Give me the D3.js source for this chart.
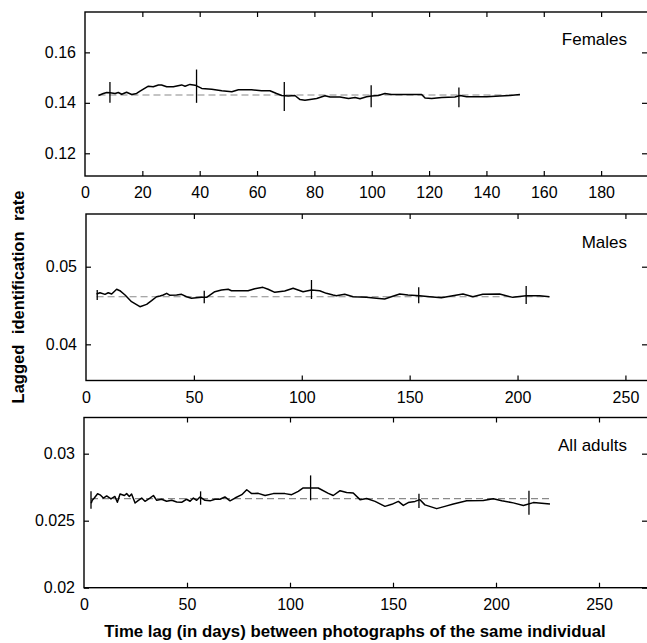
<!DOCTYPE html>
<html>
<head>
<meta charset="utf-8">
<script src="https://cdn.jsdelivr.net/npm/d3@7"></script>
<style>
  html, body { margin: 0; padding: 0; background: #fff; }
  svg { display: block; font-family: "Liberation Sans", Arial, Helvetica, sans-serif; }
</style>
</head>
<body>
<svg id="chart" width="647" height="643"></svg>
<script>
// ---------- DATA ----------
const panelLabels = ["Females", "Males", "All adults"];

const femalesLag = [4.7, 6.4, 7.6, 8.7, 10.5, 11.6, 12.8, 14.5, 16.3, 18.0, 19.2, 22.1, 23.8, 25.6, 26.7, 28.5, 30.8, 33.7, 34.9, 36.6, 38.4, 40.7, 44.2, 47.7, 51.2, 53.5, 58.1, 61.6, 64.5, 66.8, 68.6, 70.9, 73.2, 75.0, 76.7, 78.5, 80.8, 83.7, 85.5, 88.9, 91.9, 94.2, 95.9, 98.2, 100.0, 102.3, 104.6, 106.9, 117.4, 118.6, 120.9, 124.4, 129.0, 130.8, 133.1, 140.1, 144.7, 148.2, 151.7];
const femalesRate = [0.1429, 0.1437, 0.1441, 0.1440, 0.1437, 0.1441, 0.1434, 0.1442, 0.1433, 0.1437, 0.1446, 0.1466, 0.1464, 0.1471, 0.1471, 0.1464, 0.1464, 0.1471, 0.1466, 0.1473, 0.1470, 0.1457, 0.1454, 0.1448, 0.1444, 0.1452, 0.1452, 0.1448, 0.1448, 0.1437, 0.1429, 0.1427, 0.1429, 0.1413, 0.1410, 0.1413, 0.1417, 0.1428, 0.1423, 0.1423, 0.1417, 0.1421, 0.1416, 0.1424, 0.1427, 0.1429, 0.1437, 0.1433, 0.1433, 0.1419, 0.1417, 0.1421, 0.1423, 0.1429, 0.1424, 0.1424, 0.1427, 0.1429, 0.1433];
const femalesMean = 0.1431;
const femalesMeanRange = [4.7, 151.7];
const femalesBarLag = [8.7, 38.9, 69.5, 99.8, 130.4];
const femalesBarLo = [0.1400, 0.1400, 0.1368, 0.1382, 0.1382];
const femalesBarHi = [0.1483, 0.1532, 0.1483, 0.1470, 0.1461];
const femalesXTicks = [0, 20, 40, 60, 80, 100, 120, 140, 160, 180];
const femalesYTicks = [0.12, 0.14, 0.16];

const malesLag = [4.9, 6.5, 8.8, 10.3, 11.9, 14.2, 15.7, 18.1, 21.1, 25.0, 28.1, 30.4, 32.7, 34.3, 35.8, 37.4, 38.9, 42.0, 44.3, 46.6, 48.9, 51.2, 53.6, 55.9, 57.4, 59.7, 62.8, 65.9, 67.4, 75.1, 78.2, 82.0, 84.4, 87.5, 92.1, 96.0, 98.3, 100.6, 104.5, 108.3, 111.4, 114.5, 116.0, 119.9, 123.8, 129.9, 134.6, 138.4, 141.5, 145.4, 149.2, 154.6, 159.3, 164.7, 169.3, 174.7, 179.3, 183.9, 191.7, 197.8, 204.0, 210.2, 214.8];
const malesRate = [0.04648, 0.04665, 0.04644, 0.04665, 0.04648, 0.04709, 0.04691, 0.04635, 0.04549, 0.04485, 0.04515, 0.04562, 0.04613, 0.04622, 0.04635, 0.04657, 0.04631, 0.04635, 0.04644, 0.04613, 0.04593, 0.04601, 0.04605, 0.04605, 0.04635, 0.04678, 0.04700, 0.04709, 0.04691, 0.04691, 0.04717, 0.04734, 0.04709, 0.04670, 0.04687, 0.04722, 0.04700, 0.04678, 0.04700, 0.04691, 0.04657, 0.04635, 0.04627, 0.04644, 0.04613, 0.04605, 0.04593, 0.04584, 0.04613, 0.04648, 0.04635, 0.04627, 0.04613, 0.04600, 0.04622, 0.04648, 0.04613, 0.04644, 0.04648, 0.04605, 0.04627, 0.04627, 0.04613];
const malesMean = 0.04613;
const malesMeanRange = [4.9, 214.8];
const malesBarLag = [5.2, 54.8, 104.5, 154.2, 204.0];
const malesBarLo = [0.04570, 0.04528, 0.04584, 0.04528, 0.04520];
const malesBarHi = [0.04700, 0.04691, 0.04829, 0.04734, 0.04751];
const malesXTicks = [0, 50, 100, 150, 200, 250];
const malesYTicks = [0.04, 0.05];

const allLag = [3.5, 4.0, 5.0, 6.6, 7.8, 9.4, 11.0, 13.1, 15.0, 16.2, 17.5, 19.6, 20.7, 22.0, 23.1, 24.8, 26.4, 28.0, 29.6, 32.0, 33.7, 35.3, 37.7, 40.1, 42.6, 45.0, 47.4, 49.8, 51.5, 53.1, 54.7, 56.3, 58.7, 61.2, 63.6, 66.0, 68.4, 70.9, 73.3, 76.6, 79.0, 81.4, 84.6, 87.9, 91.9, 97.6, 100.8, 104.0, 106.4, 113.7, 118.6, 121.0, 124.3, 127.5, 130.7, 134.0, 137.2, 141.3, 146.1, 149.4, 152.6, 155.0, 157.4, 160.7, 163.1, 165.5, 171.2, 175.2, 179.3, 185.8, 193.8, 198.7, 202.8, 208.4, 213.3, 218.1, 226.2];
const allRate = [0.02630, 0.02652, 0.02669, 0.02701, 0.02693, 0.02669, 0.02685, 0.02662, 0.02681, 0.02637, 0.02699, 0.02688, 0.02702, 0.02681, 0.02699, 0.02632, 0.02652, 0.02669, 0.02645, 0.02669, 0.02688, 0.02652, 0.02660, 0.02645, 0.02652, 0.02640, 0.02637, 0.02660, 0.02645, 0.02669, 0.02652, 0.02677, 0.02652, 0.02648, 0.02660, 0.02660, 0.02677, 0.02648, 0.02669, 0.02694, 0.02731, 0.02702, 0.02704, 0.02688, 0.02702, 0.02702, 0.02694, 0.02719, 0.02744, 0.02744, 0.02704, 0.02688, 0.02724, 0.02711, 0.02707, 0.02657, 0.02666, 0.02644, 0.02607, 0.02622, 0.02644, 0.02614, 0.02635, 0.02644, 0.02657, 0.02618, 0.02590, 0.02607, 0.02625, 0.02649, 0.02651, 0.02664, 0.02649, 0.02633, 0.02614, 0.02635, 0.02625];
const allMean = 0.02664;
const allMeanRange = [3.4, 226.2];
const allBarLag = [3.4, 56.6, 110.0, 162.6, 216.0];
const allBarLo = [0.02590, 0.02619, 0.02652, 0.02595, 0.02545];
const allBarHi = [0.02719, 0.02719, 0.02838, 0.02701, 0.02724];
const allXTicks = [0, 50, 100, 150, 200, 250];
const allYTicks = [0.02, 0.025, 0.03];

const xTitle = "Time lag (in days) between photographs of the same individual";
const yTitle = "Lagged identification rate";

// ---------- LAYOUT ----------
const svg = d3.select("#chart");
const panels = [
  { label: panelLabels[0], lag: femalesLag, rate: femalesRate, mean: femalesMean, meanRange: femalesMeanRange,
    barLag: femalesBarLag, barLo: femalesBarLo, barHi: femalesBarHi, xTicks: femalesXTicks, yTicks: femalesYTicks,
    xDomain: [0, 196], yDomain: [0.111, 0.176], left: 85, top: 12, bottom: 176, yFmt: d3.format(".2f"), labelY: 45 },
  { label: panelLabels[1], lag: malesLag, rate: malesRate, mean: malesMean, meanRange: malesMeanRange,
    barLag: malesBarLag, barLo: malesBarLo, barHi: malesBarHi, xTicks: malesXTicks, yTicks: malesYTicks,
    xDomain: [0, 260], yDomain: [0.03534, 0.05679], left: 86, top: 214, bottom: 380.5, yFmt: d3.format(".2f"), labelY: 248 },
  { label: panelLabels[2], lag: allLag, rate: allRate, mean: allMean, meanRange: allMeanRange,
    barLag: allBarLag, barLo: allBarLo, barHi: allBarHi, xTicks: allXTicks, yTicks: allYTicks,
    xDomain: [0, 273.3], yDomain: [0.02, 0.0327], left: 84, top: 417.5, bottom: 587.7, yFmt: d => d3.format("")(+d.toFixed(3)), labelY: 451 }
];
const rightEdge = 647;
const tickLen = 5;

panels.forEach(p => {
  const x = d3.scaleLinear().domain(p.xDomain).range([p.left, rightEdge]);
  const y = d3.scaleLinear().domain(p.yDomain).range([p.bottom, p.top]);
  const g = svg.append("g");

  // mean dashed line
  g.append("line")
    .attr("x1", x(p.meanRange[0])).attr("x2", x(p.meanRange[1]))
    .attr("y1", y(p.mean)).attr("y2", y(p.mean))
    .attr("stroke", "#8a8a8a").attr("stroke-width", 1.2)
    .attr("stroke-dasharray", "7,4");

  // data line
  const pts = p.lag.map((d, i) => [d, p.rate[i]]);
  g.append("path")
    .datum(pts)
    .attr("fill", "none").attr("stroke", "#000").attr("stroke-width", 1.5)
    .attr("stroke-linejoin", "round")
    .attr("d", d3.line().x(d => x(d[0])).y(d => y(d[1])));

  // error bars
  g.selectAll("line.err").data(p.barLag).enter().append("line")
    .attr("class", "err")
    .attr("x1", d => x(d)).attr("x2", d => x(d))
    .attr("y1", (d, i) => y(p.barLo[i])).attr("y2", (d, i) => y(p.barHi[i]))
    .attr("stroke", "#000").attr("stroke-width", 1.3);

  // axes with inward ticks on all four sides
  const xb = g.append("g").attr("transform", `translate(0,${p.bottom})`)
    .call(d3.axisBottom(x).tickValues(p.xTicks).tickSizeInner(-tickLen).tickSizeOuter(0).tickPadding(11).tickFormat(d3.format("")));
  const xt = g.append("g").attr("transform", `translate(0,${p.top})`)
    .call(d3.axisTop(x).tickValues(p.xTicks).tickSizeInner(-tickLen).tickSizeOuter(0).tickFormat(""));
  const yl = g.append("g").attr("transform", `translate(${p.left},0)`)
    .call(d3.axisLeft(y).tickValues(p.yTicks).tickSizeInner(-tickLen).tickSizeOuter(0).tickPadding(9).tickFormat(p.yFmt));
  const yr = g.append("g").attr("transform", `translate(${rightEdge},0)`)
    .call(d3.axisRight(y).tickValues(p.yTicks).tickSizeInner(-tickLen).tickSizeOuter(0).tickFormat(""));
  [xb, xt, yl, yr].forEach(a => {
    a.select(".domain").remove();
    a.selectAll(".tick line").attr("stroke", "#000").attr("stroke-width", 1.2);
    a.selectAll(".tick text").attr("font-size", 16).attr("fill", "#000")
      .attr("font-family", "'Liberation Sans', Arial, Helvetica, sans-serif");
  });
  xt.selectAll(".tick").filter(d => d === 0).select("line").remove();
  xb.selectAll(".tick").filter(d => d === 0).select("line").remove();

  // frame
  g.append("rect")
    .attr("x", p.left).attr("y", p.top)
    .attr("width", rightEdge - p.left + 2).attr("height", p.bottom - p.top)
    .attr("fill", "none").attr("stroke", "#000").attr("stroke-width", 1.4);

  // panel label
  g.append("text")
    .attr("x", 627).attr("y", p.labelY)
    .attr("text-anchor", "end").attr("font-size", 17).attr("fill", "#000")
    .text(p.label);
});

// axis titles
svg.append("text")
  .attr("x", 355).attr("y", 637)
  .attr("text-anchor", "middle").attr("font-size", 16.8).attr("font-weight", "bold")
  .text(xTitle);

svg.append("text")
  .attr("transform", "translate(24,297) rotate(-90)")
  .attr("text-anchor", "middle").attr("font-size", 16.5).attr("font-weight", "bold")
  .attr("word-spacing", 6)
  .text(yTitle);
</script>
</body>
</html>
